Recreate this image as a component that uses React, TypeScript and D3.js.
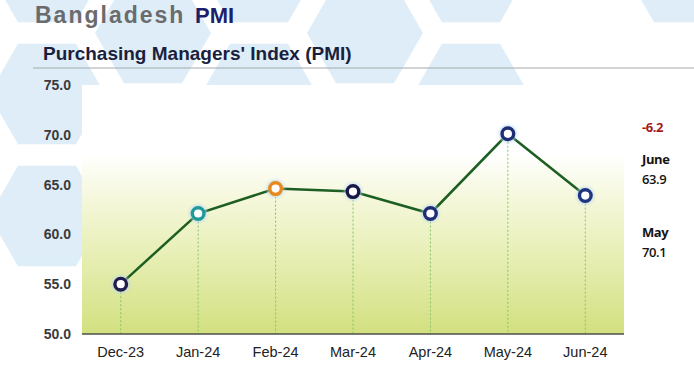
import React from "react";
import * as d3 from "d3";

const months = ["Dec-23", "Jan-24", "Feb-24", "Mar-24", "Apr-24", "May-24", "Jun-24"];
const pmiValues = [55.0, 62.1, 64.6, 64.3, 62.1, 70.1, 63.9];
const markerColors = ["#231d4f", "#1f9a9c", "#e8891d", "#1a1848", "#1f2d75", "#1f2d75", "#1f3580"];
const yTicks = [50, 55, 60, 65, 70, 75];
const sideNotes = [
  { text: "-6.2", kind: "change" },
  { text: "June", kind: "label" },
  { text: "63.9", kind: "value" },
  { text: "May", kind: "label" },
  { text: "70.1", kind: "value" },
];
const sideNoteY = [132, 164, 184, 237, 257];

// decorative honeycomb centres
const hexCentres: [number, number][] = [
  [-59, 33], [-59, 155], [-59, 277],
  [47, -28], [47, 94], [47, 216],
  [153, 33],
  [259, -28], [259, 94],
  [365, 33],
  [471, -28], [471, 94],
  [683, -28],
];

const W = 694;
const H = 370;
const plot = { left: 82, right: 624, top: 85, bottom: 334 };

function hexPath(cx: number, cy: number, r: number) {
  const pts = d3.range(6).map((i) => {
    const a = (Math.PI / 3) * i;
    return [cx + r * Math.cos(a), cy + r * Math.sin(a)];
  });
  return "M" + pts.map((p) => p.join(",")).join("L") + "Z";
}

export default function App() {
  const x = d3.scalePoint<string>().domain(months).range([plot.left, plot.right]).padding(0.5);
  const y = d3.scaleLinear().domain([50, 75]).range([plot.bottom, plot.top]);
  const line = d3
    .line<number>()
    .x((_, i) => x(months[i]) as number)
    .y((d) => y(d));

  return (
    <svg
      width={W}
      height={H}
      style={{ position: "absolute", left: 0, top: 0, background: "#ffffff" }}
      fontFamily="'Liberation Sans', Arial, sans-serif"
    >
      <defs>
        <linearGradient id="plotGrad" gradientUnits="userSpaceOnUse" x1={0} x2={0} y1={plot.top} y2={plot.bottom}>
          <stop offset="0" stopColor="#ffffff" />
          <stop offset="0.28" stopColor="#ffffff" />
          <stop offset="0.45" stopColor="#f5f8dc" />
          <stop offset="0.75" stopColor="#e3ecaa" />
          <stop offset="1" stopColor="#d2e07f" />
        </linearGradient>
        <filter id="glow" x="-50%" y="-50%" width="200%" height="200%">
          <feGaussianBlur stdDeviation="1.5" />
        </filter>
      </defs>

      {/* background honeycomb */}
      <g fill="#d3e8f5" opacity={0.75}>
        {hexCentres.map(([cx, cy], i) => (
          <path key={i} d={hexPath(cx, cy, 58)} />
        ))}
      </g>

      {/* titles */}
      <text x={35} y={23} fontSize={23} fontWeight="bold" fill="#6b6b6e" letterSpacing={2}>
        Bangladesh
      </text>
      <text x={195} y={23} fontSize={22} fontWeight="bold" fill="#1d1f6a">
        PMI
      </text>
      <text x={43} y={60} fontSize={19} fontWeight="bold" fill="#1b1f3e">
        Purchasing Managers' Index (PMI)
      </text>
      <line x1={33} x2={W} y1={68} y2={68} stroke="#a4a9ad" strokeWidth={1} />

      {/* plot area */}
      <rect x={plot.left} y={plot.top} width={plot.right - plot.left} height={plot.bottom - plot.top} fill="url(#plotGrad)" />

      {/* y tick labels */}
      {yTicks.map((t) => (
        <text key={t} x={71} y={y(t)} dy="0.36em" textAnchor="end" fontSize={14} fontWeight="bold" fill="#3a3a3c">
          {t.toFixed(1)}
        </text>
      ))}

      {/* drop lines */}
      {pmiValues.map((v, i) => (
        <line
          key={months[i]}
          x1={x(months[i])}
          x2={x(months[i])}
          y1={y(v)}
          y2={plot.bottom}
          stroke="#86c46a"
          strokeWidth={1}
          strokeDasharray="2,2"
        />
      ))}

      {/* axis line */}
      <line x1={plot.left} x2={plot.right} y1={plot.bottom} y2={plot.bottom} stroke="#4d4f48" strokeWidth={1.6} />

      {/* x labels */}
      {months.map((m) => (
        <text key={m} x={x(m)} y={357} textAnchor="middle" fontSize={14.5} fill="#222222">
          {m}
        </text>
      ))}

      {/* line */}
      <path d={line(pmiValues) || ""} fill="none" stroke="#1d5e22" strokeWidth={2.5} />

      {/* markers */}
      {pmiValues.map((v, i) => (
        <g key={months[i]}>
          <circle cx={x(months[i])} cy={y(v)} r={9} fill="#b9d6f0" opacity={0.7} filter="url(#glow)" />
          <circle cx={x(months[i])} cy={y(v)} r={5.8} fill="#ffffff" stroke={markerColors[i]} strokeWidth={3.4} />
        </g>
      ))}

      {/* side notes */}
      {sideNotes.map((n, i) => (
        <text
          key={i}
          x={642}
          y={sideNoteY[i]}
          fontFamily="'Open Sans', 'Noto Sans', sans-serif"
          fontSize={13}
          fontWeight={n.kind === "value" ? 600 : 700}
          fill={n.kind === "change" ? "#a11a1f" : "#141414"}
          letterSpacing={-0.4}
        >
          {n.text}
        </text>
      ))}
    </svg>
  );
}
